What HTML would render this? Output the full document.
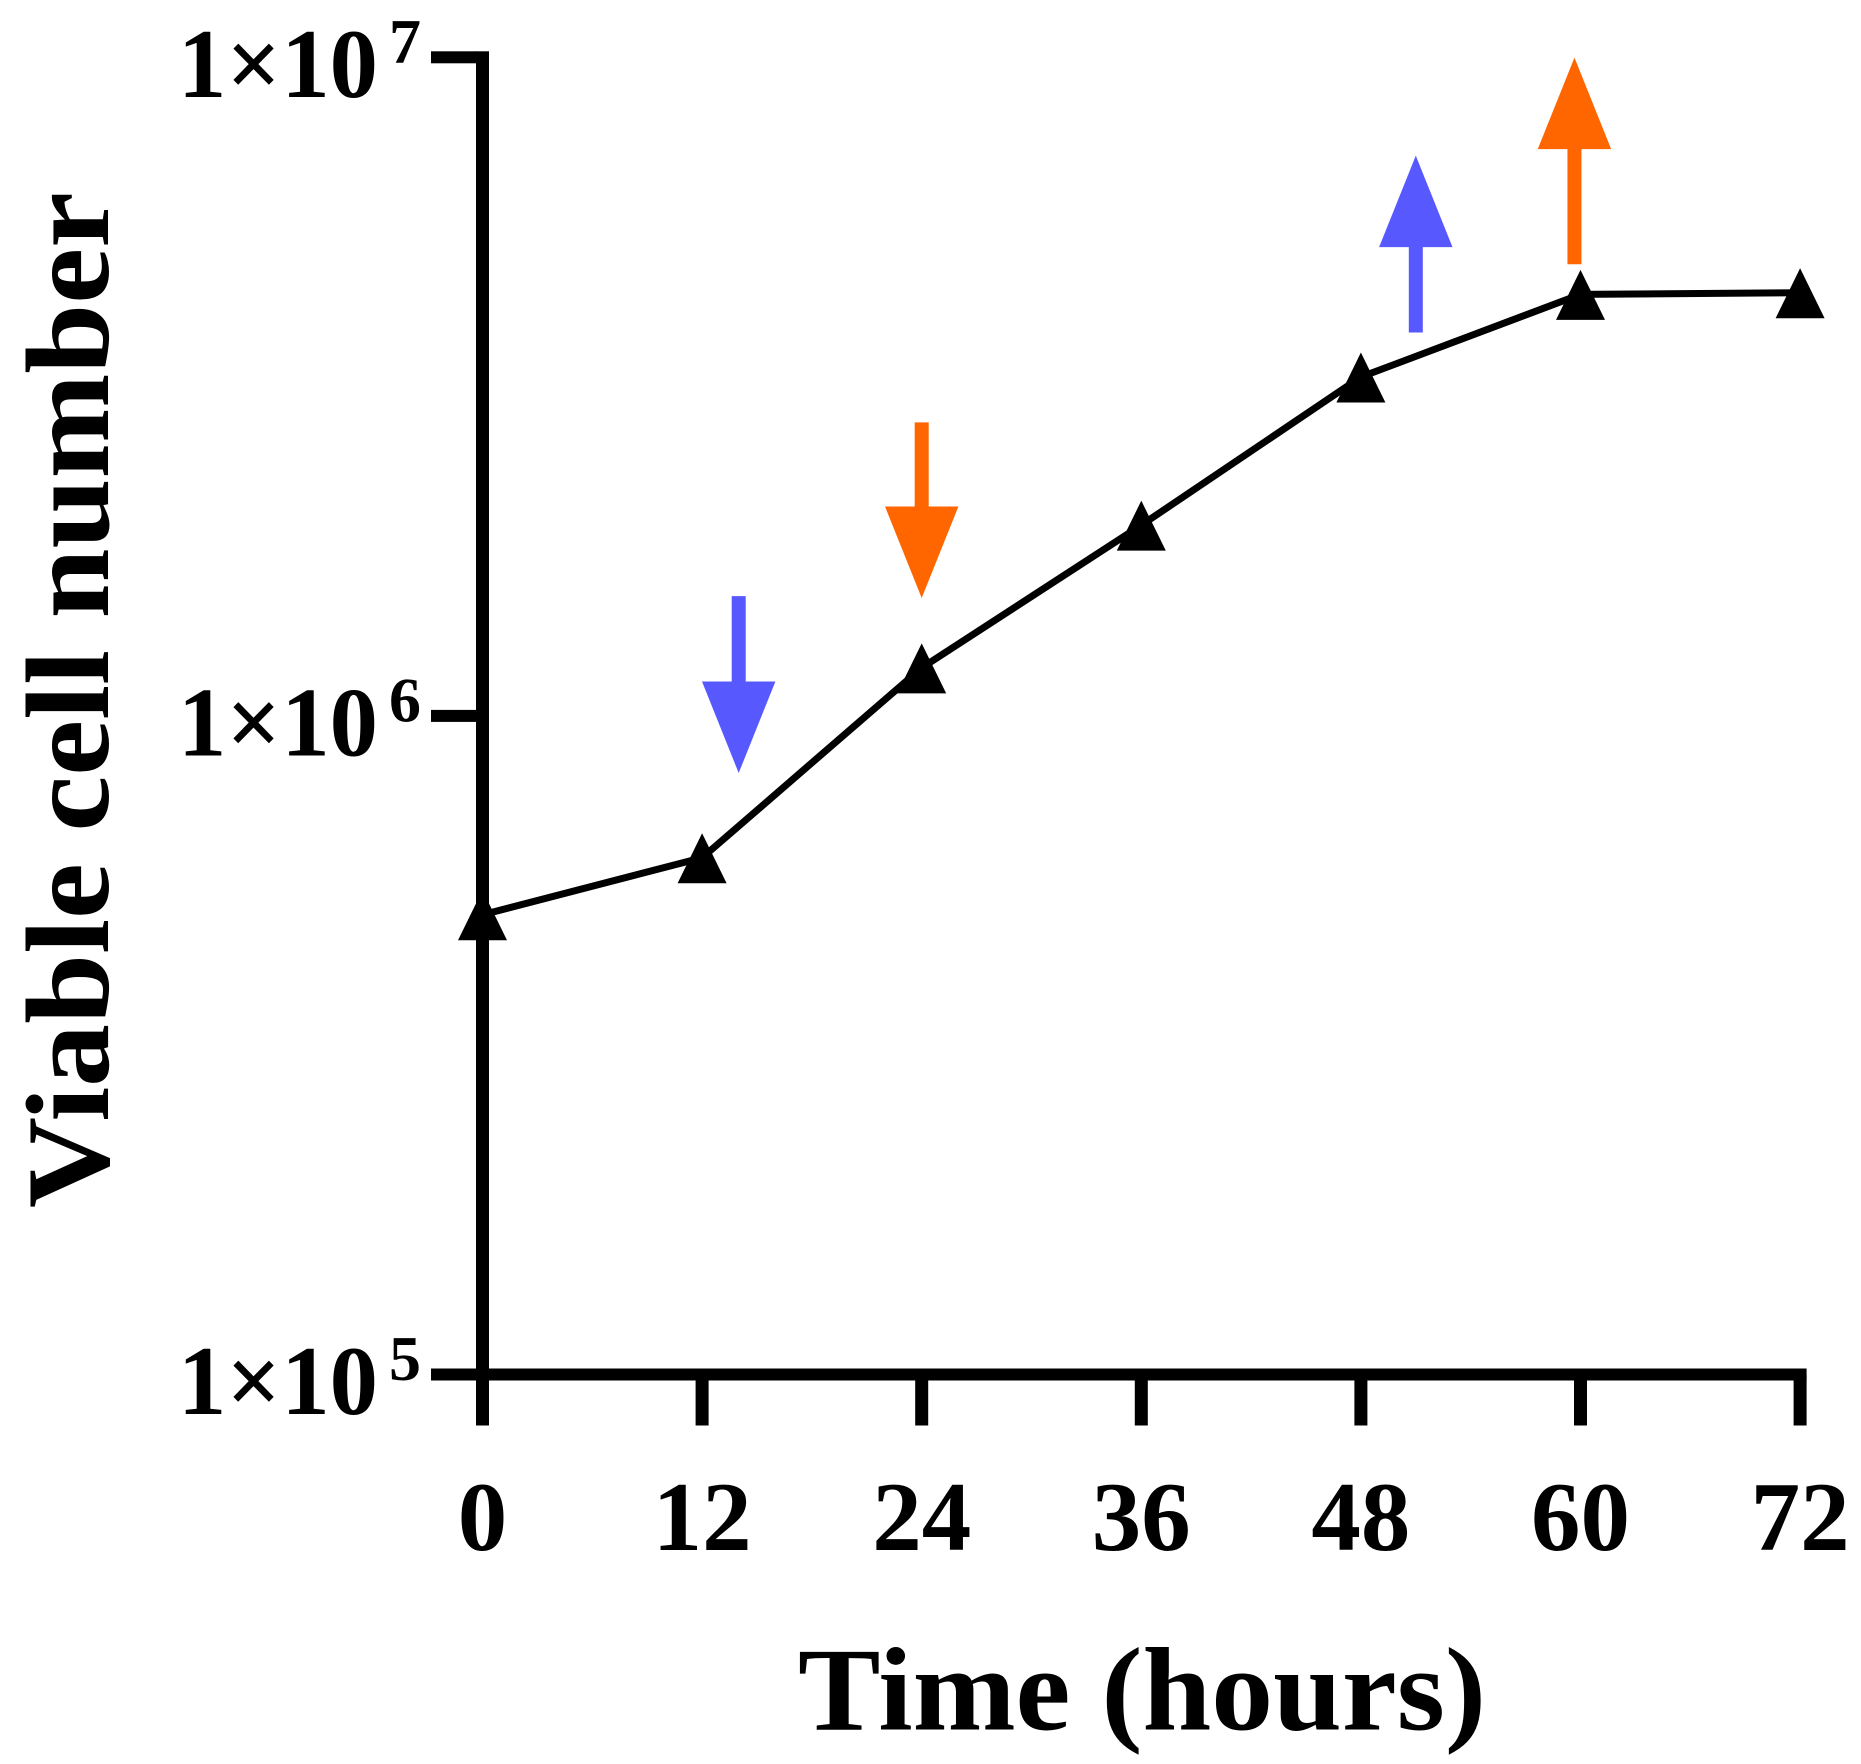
<!DOCTYPE html>
<html lang="en">
<head>
<meta charset="utf-8">
<title>Viable cell number over time</title>
<style>
html,body{margin:0;padding:0;background:#fff;width:1861px;height:1764px;overflow:hidden}
svg{display:block}
text{font-family:"Liberation Serif",serif;font-weight:bold;fill:#000}
</style>
</head>
<body>
<svg id="chart" xmlns="http://www.w3.org/2000/svg" width="1861" height="1764" viewBox="0 0 1861 1764">
<rect x="0" y="0" width="1861" height="1764" fill="#ffffff"/>
<text x="1142" y="1729.5" font-size="119" text-anchor="middle" textLength="688" lengthAdjust="spacingAndGlyphs">Time (hours)</text>
<text transform="translate(108,700) rotate(-90)" x="0" y="0" font-size="119" text-anchor="middle" textLength="1016" lengthAdjust="spacingAndGlyphs">Viable cell number</text>
</svg>
<script>
const hours = [0, 12, 24, 36, 48, 60, 72];
const viableCells = [499000, 609000, 1183000, 1948000, 3270000, 4365000, 4390000];
const xTickLabels = ["0", "12", "24", "36", "48", "60", "72"];
const yTickExponents = [5, 6, 7];
const arrowHours = [14, 24, 51, 59.67];
const arrowTipValues = [819000, 1510000, 7090000, 9990000];
const arrowTailValues = [1520000, 2790000, 3820000, 4850000];
const arrowColors = ["#5858ff", "#ff6600", "#5858ff", "#ff6600"];
const arrowNames = ["blue-down-arrow", "orange-down-arrow", "blue-up-arrow", "orange-up-arrow"];

const NS = "http://www.w3.org/2000/svg";
const svg = document.getElementById("chart");
function xScale(h) { return 482.5 + h * 18.3; }
function yScale(v) { return 1374.5 - (Math.log10(v) - 5) * 658.6; }
function make(tag) {
  const el = document.createElementNS(NS, tag);
  svg.appendChild(el);
  return el;
}

// y axis
const yAxis = make("rect");


yAxis.setAttribute("x", xScale(0) - 6.5);
yAxis.setAttribute("y", yScale(1e7) - 6);
yAxis.setAttribute("width", 13);
yAxis.setAttribute("height", 1425.5 - yScale(1e7) + 6);

// x axis
const xAxis = make("rect");


xAxis.setAttribute("x", xScale(0) - 6.5);
xAxis.setAttribute("y", yScale(1e5) - 6);
xAxis.setAttribute("width", xScale(72) - xScale(0) + 13);
xAxis.setAttribute("height", 12);

// x ticks + labels
hours.forEach(function (h, i) {
  const tick = make("rect");
  
  
  tick.setAttribute("x", xScale(h) - 6.5);
  tick.setAttribute("y", yScale(1e5));
  tick.setAttribute("width", 13);
  tick.setAttribute("height", 1425.5 - yScale(1e5));
  const label = make("text");
  
  
  label.setAttribute("x", xScale(h));
  label.setAttribute("y", yScale(1e5) + 175.5);
  label.setAttribute("font-size", 99);
  label.setAttribute("text-anchor", "middle");
  label.textContent = xTickLabels[i];
});

// y ticks + labels
yTickExponents.forEach(function (e) {
  const yy = yScale(Math.pow(10, e));
  const tick = make("rect");
  
  
  tick.setAttribute("x", 431);
  tick.setAttribute("y", yy - 6);
  tick.setAttribute("width", 46);
  tick.setAttribute("height", 12);
  const label = make("text");
  
  
  label.setAttribute("x", 178);
  label.setAttribute("y", yy + 39.5);
  label.setAttribute("font-size", 99);
  label.setAttribute("textLength", 200);
  label.setAttribute("lengthAdjust", "spacingAndGlyphs");
  label.textContent = "1\u00d710";
  const sup = make("text");
  
  
  sup.setAttribute("x", 405);
  sup.setAttribute("y", yy + 5.5);
  sup.setAttribute("font-size", 64);
  sup.setAttribute("text-anchor", "middle");
  sup.textContent = String(e);
});

// annotation arrows
arrowHours.forEach(function (h, i) {
  const cx = xScale(h);
  const tip = yScale(arrowTipValues[i]);
  const tail = yScale(arrowTailValues[i]);
  const dir = tail > tip ? 1 : -1;
  const base = tip + dir * 91.5;
  const arrow = make("polygon");
  
  
  arrow.setAttribute("fill", arrowColors[i]);
  arrow.setAttribute("points", [
    cx + "," + tip,
    (cx + 36.7) + "," + base,
    (cx + 7) + "," + base,
    (cx + 7) + "," + tail,
    (cx - 7) + "," + tail,
    (cx - 7) + "," + base,
    (cx - 36.7) + "," + base
  ].join(" "));
});

// series line
const line = make("polyline");


line.setAttribute("fill", "none");
line.setAttribute("stroke", "#000");
line.setAttribute("stroke-width", 7);
line.setAttribute("stroke-linejoin", "miter");
line.setAttribute("points", hours.map(function (h, i) {
  return xScale(h) + "," + yScale(viableCells[i]);
}).join(" "));

// series markers
hours.forEach(function (h, i) {
  const cx = xScale(h);
  const cy = yScale(viableCells[i]);
  const marker = make("polygon");
  
  
  marker.setAttribute("fill", "#000");
  marker.setAttribute("points", [
    cx + "," + (cy - 24.5),
    (cx + 24.5) + "," + (cy + 25.5),
    (cx - 24.5) + "," + (cy + 25.5)
  ].join(" "));
});
</script>
</body>
</html>
